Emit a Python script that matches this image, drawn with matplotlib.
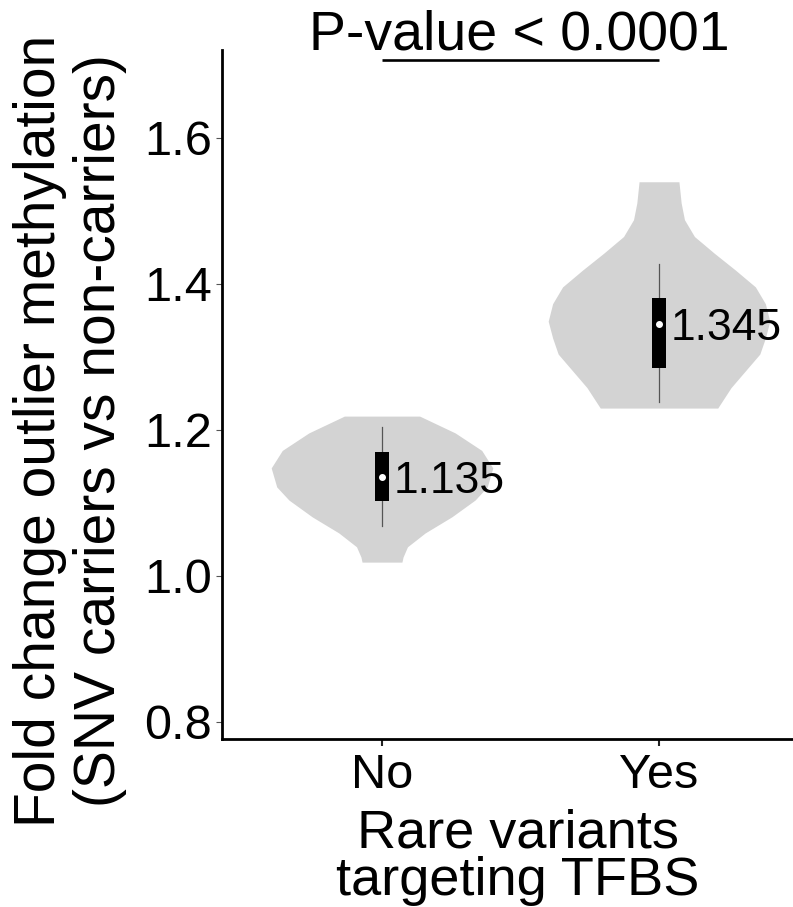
import matplotlib
matplotlib.use("Agg")
import matplotlib.pyplot as plt
import numpy as np

plt.rcParams['font.family'] = ['Liberation Sans', 'DejaVu Sans']

# ---------------- data ----------------
categories = ["No", "Yes"]
tick_labels = ["No", "Yes"]
yticks = [0.8, 1.0, 1.2, 1.4, 1.6]
ytick_labels = ["0.8", "1.0", "1.2", "1.4", "1.6"]

# violin density profiles (relative half-width)
no_y = [1.019, 1.026, 1.040, 1.059, 1.081, 1.104, 1.122, 1.148, 1.172, 1.196, 1.219]
no_dens = [0.18, 0.19, 0.23, 0.39, 0.63, 0.84, 0.95, 1.00, 0.90, 0.66, 0.34]
yes_y = [1.230, 1.258, 1.281, 1.304, 1.326, 1.349, 1.373, 1.396, 1.419, 1.442,
         1.465, 1.488, 1.511, 1.540]
yes_dens = [0.53, 0.65, 0.78, 0.91, 0.96, 1.00, 0.96, 0.87, 0.69, 0.50,
            0.32, 0.23, 0.20, 0.18]

# box statistics
q1 = [1.103, 1.285]
q3 = [1.170, 1.381]
whisker_lo = [1.068, 1.238]
whisker_hi = [1.204, 1.427]
medians = [1.135, 1.345]
median_labels = ["1.135", "1.345"]

pvalue_text = "P-value < 0.0001"
pvalue_y = 1.7068

# ---------------- figure ----------------
W, H = 793, 907
fig = plt.figure(figsize=(W / 100, H / 100), dpi=100)
ax_left, ax_right, ax_top, ax_bottom = 222, 814, 50, 739
ax = fig.add_axes([ax_left / W, (H - ax_bottom) / H,
                   (ax_right - ax_left) / W, (ax_bottom - ax_top) / H])

positions = [1, 2]
max_hw = 0.40
box_w = 0.05
violin_color = "#d3d3d3"

profiles = [(no_y, no_dens), (yes_y, yes_dens)]
for pos, (yy, dd) in zip(positions, profiles):
    yy = np.asarray(yy)
    hw = np.asarray(dd) * max_hw
    ax.fill_betweenx(yy, pos - hw, pos + hw, color=violin_color, lw=0, zorder=1)

for i, pos in enumerate(positions):
    ax.plot([pos, pos], [whisker_lo[i], whisker_hi[i]], color="#555555", lw=0.9, zorder=2)
    ax.add_patch(plt.Rectangle((pos - box_w / 2, q1[i]), box_w, q3[i] - q1[i],
                               facecolor="black", edgecolor="black", lw=0, zorder=3))
    ax.plot([pos], [medians[i]], marker="o", ms=4, color="white", mec="white", zorder=4)
    ax.annotate(median_labels[i], xy=(pos + box_w / 2, medians[i]),
                xytext=(3.5, -11.5), textcoords="offset points",
                ha="left", va="baseline", fontsize=32, color="black", zorder=5)

# p-value bracket
ax.plot([positions[0], positions[1]], [pvalue_y, pvalue_y], color="black", lw=1.9,
        clip_on=False, solid_capstyle="butt")

ax.set_xlim(0.4224, 2.5596)
ax.set_ylim(0.7767, 1.7205)
ax.set_xticks(positions)
ax.set_xticklabels(tick_labels, fontsize=35)
ax.set_yticks(yticks)
ax.set_yticklabels(ytick_labels, fontsize=35)

for s in ["top", "right"]:
    ax.spines[s].set_visible(False)
for s in ["left", "bottom"]:
    ax.spines[s].set_linewidth(2.0)
    ax.spines[s].set_color("black")

ax.tick_params(axis="y", length=4.3, width=0.8, color="#555555", pad=3)
ax.tick_params(axis="x", length=5, width=1.5, color="#222222", pad=5)

# titles
fig.text(519 / W, 1 - 50 / H, pvalue_text, ha="center", va="baseline", fontsize=40)
fig.text(518 / W, 1 - 895 / H, "Rare variants\ntargeting TFBS", ha="center",
         va="baseline", fontsize=39, linespacing=0.93)
fig.text(70 / W, 1 - 431 / H,
         "Fold change outlier methylation\n(SNV carriers vs non-carriers)",
         rotation=90, ha="center", va="center", multialignment="center",
         fontsize=41, linespacing=1.12)

fig.savefig("out.png", dpi=100)
